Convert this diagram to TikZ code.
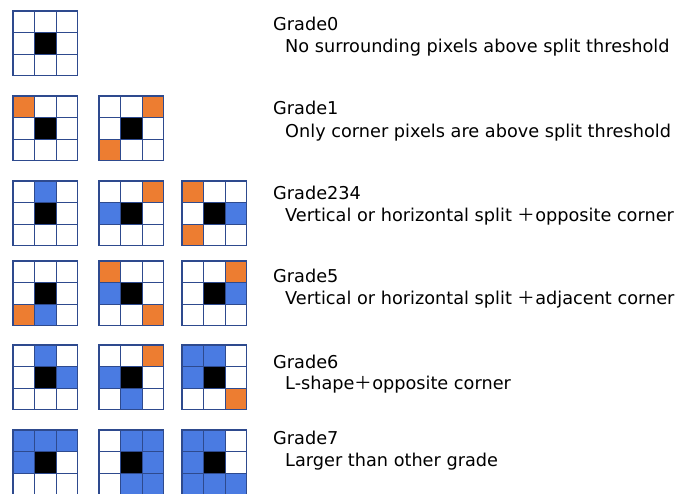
\documentclass[tikz,border=0pt]{standalone}
\usepackage{fontspec}
\setmainfont{DejaVu Sans}
\newfontfamily\cjk{Noto Sans CJK JP}
\newcommand\fplus{{\cjk ＋}}
\definecolor{orng}{HTML}{ED7D31}
\definecolor{blu}{HTML}{4A7BE2}
\definecolor{gridc}{HTML}{2E4A8E}
\newcommand\cs{21.6}
\newcommand\orcell[2]{\fill[orng] ({#1*\cs},{#2*\cs}) rectangle ++(\cs,\cs);}
\newcommand\blcell[2]{\fill[blu] ({#1*\cs},{#2*\cs}) rectangle ++(\cs,\cs);}
\newcommand\pgrid[3]{%
  \begin{scope}[shift={(#1,#2)}]
    #3
    \fill[black] (\cs,\cs) rectangle ++(\cs,\cs);
    \foreach \k in {0,1,2,3} {
      \draw[gridline] ({\k*\cs},0) -- ({\k*\cs},{3*\cs});
      \draw[gridline] (0,{\k*\cs}) -- ({3*\cs},{\k*\cs});
    }
  \end{scope}}
\begin{document}
\begin{tikzpicture}[x=1pt,y=-1pt,
  gridline/.style={draw=gridc,line width=1.3pt,line cap=rect},
  gtitle/.style={anchor=base west,inner sep=0pt,font=\fontsize{17.7}{20}\selectfont},
  gdesc/.style={anchor=base west,inner sep=0pt,font=\fontsize{17.7}{20}\selectfont}]
\useasboundingbox[fill=white] (0,0) rectangle (678,494);
% Grade0
\pgrid{13}{11}{}
% Grade1
\pgrid{13}{96}{\orcell{0}{0}}
\pgrid{99}{96}{\orcell{2}{0}\orcell{0}{2}}
% Grade234
\pgrid{13}{181}{\blcell{1}{0}}
\pgrid{99}{181}{\orcell{2}{0}\blcell{0}{1}}
\pgrid{182}{181}{\orcell{0}{0}\orcell{0}{2}\blcell{2}{1}}
% Grade5
\pgrid{13}{261}{\orcell{0}{2}\blcell{1}{2}}
\pgrid{99}{261}{\orcell{0}{0}\blcell{0}{1}\orcell{2}{2}}
\pgrid{182}{261}{\orcell{2}{0}\blcell{2}{1}}
% Grade6
\pgrid{13}{345}{\blcell{1}{0}\blcell{2}{1}}
\pgrid{99}{345}{\orcell{2}{0}\blcell{0}{1}\blcell{1}{2}}
\pgrid{182}{345}{\blcell{0}{0}\blcell{1}{0}\blcell{0}{1}\orcell{2}{2}}
% Grade7
\pgrid{13}{430}{\blcell{0}{0}\blcell{1}{0}\blcell{2}{0}\blcell{0}{1}}
\pgrid{99}{430}{\blcell{1}{0}\blcell{2}{0}\blcell{2}{1}\blcell{1}{2}\blcell{2}{2}}
\pgrid{182}{430}{\blcell{0}{0}\blcell{1}{0}\blcell{0}{1}\blcell{0}{2}\blcell{1}{2}\blcell{2}{2}}
% texts
\node[gtitle] (t0) at (273,31) {Grade0};
\node[gdesc] (d0) at (285,53) {No surrounding pixels above split threshold};
\node[gtitle] (t1) at (273,115) {Grade1};
\node[gdesc] (d1) at (285,138) {Only corner pixels are above split threshold};
\node[gtitle] (t2) at (273,200) {Grade234};
\node[gdesc] (d2) at (285,222) {Vertical or horizontal split \fplus opposite corner};
\node[gtitle] (t5) at (273,283) {Grade5};
\node[gdesc] (d5) at (285,305) {Vertical or horizontal split \fplus adjacent corner};
\node[gtitle] (t6) at (273,369) {Grade6};
\node[gdesc] (d6) at (285,390) {L-shape\fplus opposite corner};
\node[gtitle] (t7) at (273,445) {Grade7};
\node[gdesc] (d7) at (285,467) {Larger than other grade};
\end{tikzpicture}
\end{document}
